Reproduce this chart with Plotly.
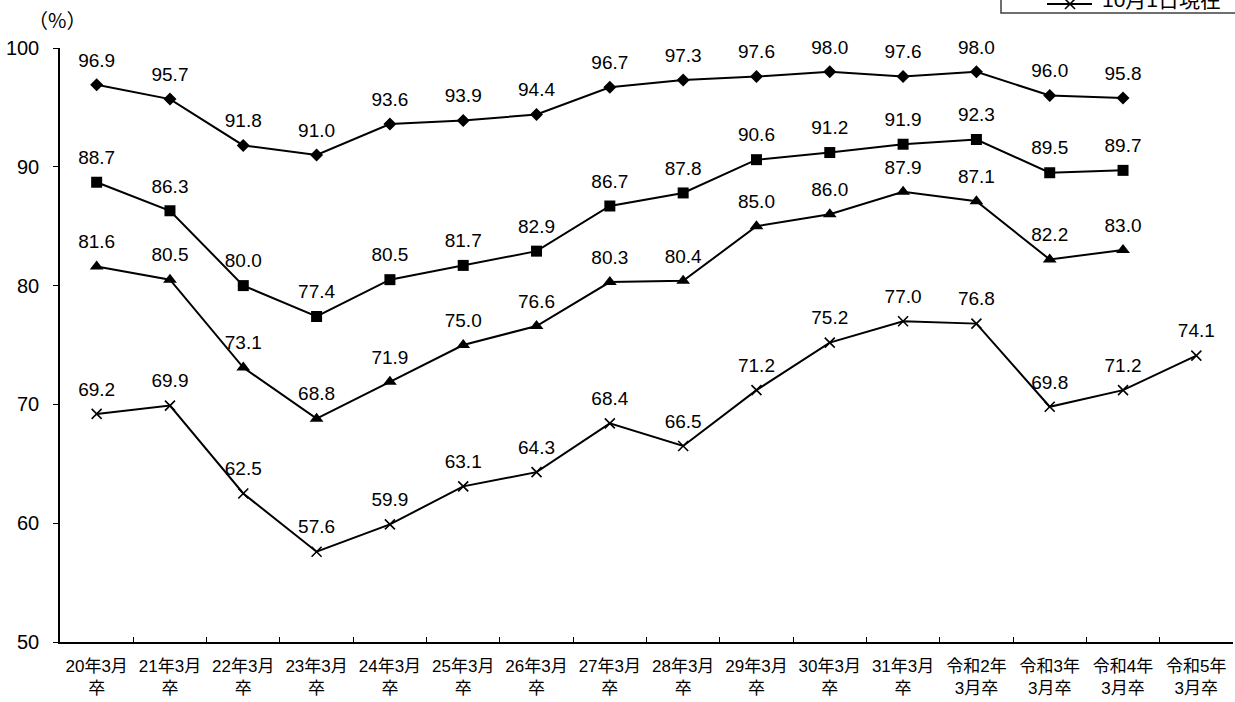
import plotly.graph_objects as go

categories = ["20年3月<br>卒", "21年3月<br>卒", "22年3月<br>卒", "23年3月<br>卒", "24年3月<br>卒",
              "25年3月<br>卒", "26年3月<br>卒", "27年3月<br>卒", "28年3月<br>卒", "29年3月<br>卒",
              "30年3月<br>卒", "31年3月<br>卒", "令和2年<br>3月卒", "令和3年<br>3月卒", "令和4年<br>3月卒",
              "令和5年<br>3月卒"]

apr1 = [96.9, 95.7, 91.8, 91.0, 93.6, 93.9, 94.4, 96.7, 97.3, 97.6, 98.0, 97.6, 98.0, 96.0, 95.8, None]
feb1 = [88.7, 86.3, 80.0, 77.4, 80.5, 81.7, 82.9, 86.7, 87.8, 90.6, 91.2, 91.9, 92.3, 89.5, 89.7, None]
dec1 = [81.6, 80.5, 73.1, 68.8, 71.9, 75.0, 76.6, 80.3, 80.4, 85.0, 86.0, 87.9, 87.1, 82.2, 83.0, None]
oct1 = [69.2, 69.9, 62.5, 57.6, 59.9, 63.1, 64.3, 68.4, 66.5, 71.2, 75.2, 77.0, 76.8, 69.8, 71.2, 74.1]

series = [
    ("4月1日現在", apr1, "diamond", 10),
    ("2月1日現在", feb1, "square", 11),
    ("12月1日現在", dec1, "triangle-up", 12),
    ("10月1日現在", oct1, "x-thin", 10),
]

NUM_FONT = "Liberation Sans, Arial, Noto Sans CJK JP"
JP_FONT = "Liberation Sans, Arial, Noto Sans CJK JP"

W, H = 1235, 702
L, R, T, B = 60, 2, 48, 60
pw, ph = W - L - R, H - T - B

def px(x):
    return (x - L) / pw

def py(y):
    return (H - B - y) / ph

fig = go.Figure()
for name, vals, sym, size in series:
    fig.add_trace(go.Scatter(
        x=categories, y=vals, name=name,
        mode="lines+markers",
        line=dict(color="black", width=2),
        marker=dict(symbol=sym, size=size, color="black",
                    line=dict(color="black", width=1.6 if sym == "x-thin" else 0)),
        cliponaxis=False,
        showlegend=False,
    ))
    # データラベル（透明な大きめマーカーで上に離す）
    fig.add_trace(go.Scatter(
        x=categories, y=vals, mode="markers+text",
        marker=dict(size=20, color="rgba(0,0,0,0)"),
        text=[f"{v:.1f}" if v is not None else "" for v in vals],
        textposition="top center",
        textfont=dict(family=NUM_FONT, size=19, color="black"),
        cliponaxis=False, showlegend=False, hoverinfo="skip",
    ))

# 凡例（上端で切れている部分）
ly = 4
fig.add_shape(type="rect", xref="paper", yref="paper",
              x0=px(1001), x1=px(1250), y0=py(13), y1=py(-40),
              line=dict(color="#404040", width=1.5), fillcolor="white", layer="above")
fig.add_shape(type="line", xref="paper", yref="paper",
              x0=px(1047), x1=px(1092), y0=py(ly), y1=py(ly),
              line=dict(color="black", width=2))
fig.add_shape(type="line", xref="paper", yref="paper",
              x0=px(1065), x1=px(1075), y0=py(ly - 5), y1=py(ly + 5),
              line=dict(color="black", width=1.6))
fig.add_shape(type="line", xref="paper", yref="paper",
              x0=px(1065), x1=px(1075), y0=py(ly + 5), y1=py(ly - 5),
              line=dict(color="black", width=1.6))
fig.add_annotation(text="10月1日現在", xref="paper", yref="paper",
                   x=px(1100), y=py(-1), xanchor="left", yanchor="middle",
                   showarrow=False, font=dict(family=JP_FONT, size=21, color="black"))

fig.add_annotation(text="（%）", xref="paper", yref="paper",
                   x=px(57), y=py(20), xanchor="center", yanchor="middle",
                   showarrow=False, font=dict(family="Noto Sans CJK JP", size=20, color="black"))

fig.update_layout(
    width=W, height=H,
    margin=dict(l=L, r=R, t=T, b=B, autoexpand=False),
    plot_bgcolor="white", paper_bgcolor="white",
    font=dict(family=JP_FONT, color="black"),
    xaxis=dict(
        showline=True, linecolor="black", linewidth=1.5,
        ticks="inside", ticklen=5, tickcolor="black", tickson="boundaries",
        tickfont=dict(size=17), tickangle=0, ticklabelstandoff=8,
        showgrid=False, range=[-0.5, 15.5],
    ),
    yaxis=dict(
        range=[50, 100], dtick=10, showline=True, linecolor="black", linewidth=1.5,
        ticks="outside", ticklen=5, tickcolor="black", showgrid=False,
        tickfont=dict(family=NUM_FONT, size=20), ticklabelstandoff=10, zeroline=False,
    ),
)

fig.write_html("out.html", config={"displayModeBar": False},
               post_script="document.body.style.margin = '0px';")
